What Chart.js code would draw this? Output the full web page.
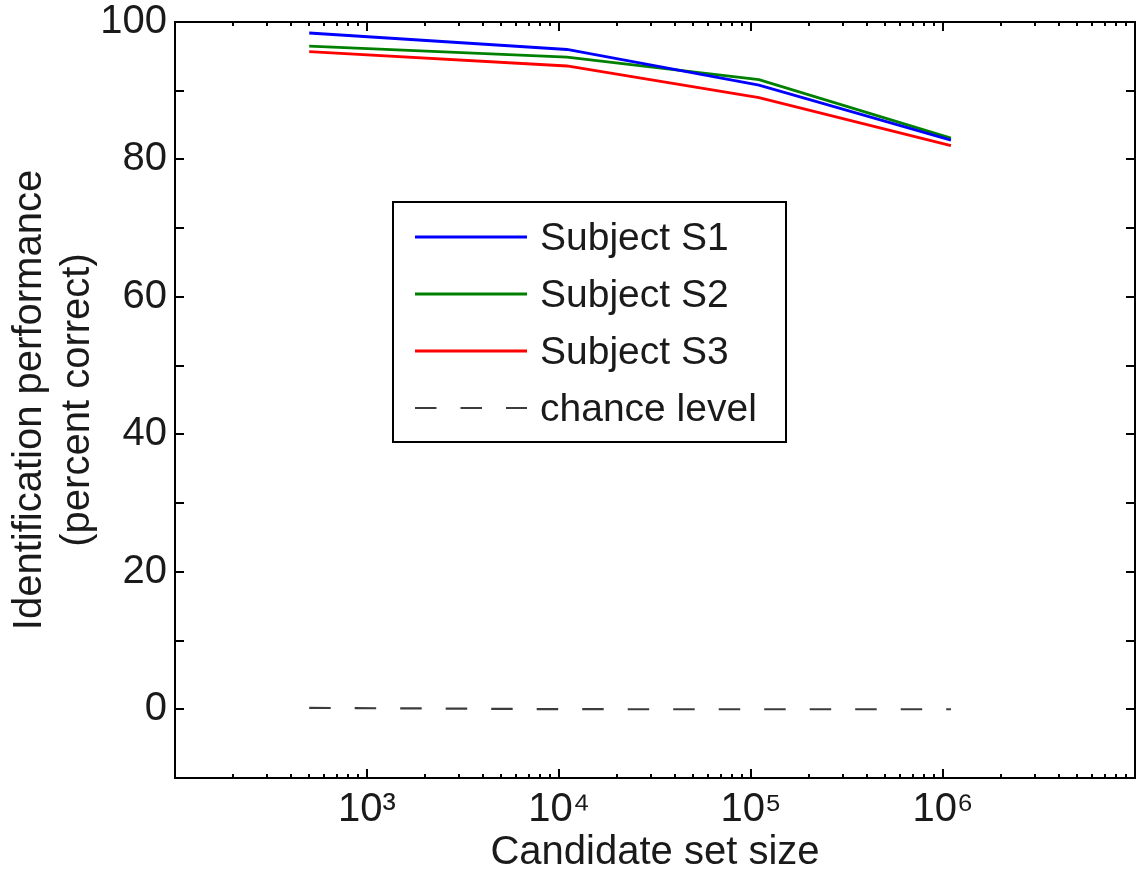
<!DOCTYPE html>
<html>
<head>
<meta charset="utf-8">
<script src="https://cdn.jsdelivr.net/npm/chart.js@4.4.1/dist/chart.umd.min.js"></script>
<style>
  html, body { margin: 0; padding: 0; background: #ffffff; }
  #wrap { width: 1141px; height: 873px; }
</style>
</head>
<body>
<div id="wrap"><canvas id="c" width="1141" height="873"></canvas></div>
<script>
// Identification performance vs. candidate set size
const setSizes   = [500, 11000, 110000, 1100000];
const subjectS1  = [98.4, 96.0, 90.8, 82.8];
const subjectS2  = [96.5, 94.9, 91.6, 83.1];
const subjectS3  = [95.7, 93.6, 89.0, 82.0];
const chanceLevel = [0.2, 0.009, 0.0009, 0.00009];

const seriesNames = ['Subject S1', 'Subject S2', 'Subject S3', 'chance level'];
const decadeLabels = { 1000: '10³', 10000: '10⁴', 100000: '10⁵', 1000000: '10⁶' };
const yLabelStep = 20;

const FONT = '"Liberation Sans", Arial, Helvetica, sans-serif';
const INK = '#1a1a1a';

// log-axis tick positions: 1..9 in every decade from 10^2 to 10^7
const xTickValues = [];
for (let e = 2; e < 7; e++) {
  for (let m = 1; m < 10; m++) xTickValues.push(m * Math.pow(10, e));
}
xTickValues.push(1e7);

const toPoints = ys => setSizes.map((x, i) => ({ x, y: ys[i] }));

// box frame with inward tick marks on all four sides
const frameTicks = {
  id: 'frameTicks',
  afterDraw(chart) {
    const { ctx, chartArea: a, scales } = chart;
    ctx.save();
    ctx.strokeStyle = '#000';
    ctx.lineWidth = 2;
    ctx.lineCap = 'butt';
    ctx.beginPath();
    scales.x.ticks.forEach(t => {
      const px = Math.round(scales.x.getPixelForValue(t.value));
      const len = decadeLabels[t.value] !== undefined || t.value === 100 || t.value === 1e7 ? 9 : 4;
      ctx.moveTo(px, a.bottom); ctx.lineTo(px, a.bottom - len);
      ctx.moveTo(px, a.top); ctx.lineTo(px, a.top + len);
    });
    scales.y.ticks.forEach(t => {
      const py = Math.round(scales.y.getPixelForValue(t.value));
      ctx.moveTo(a.left, py); ctx.lineTo(a.left + 9, py);
      ctx.moveTo(a.right, py); ctx.lineTo(a.right - 9, py);
    });
    ctx.stroke();
    ctx.strokeRect(a.left, a.top, a.right - a.left, a.bottom - a.top);
    ctx.restore();
  }
};

// boxed legend inside the plot area
const boxLegend = {
  id: 'boxLegend',
  afterDraw(chart) {
    const { ctx } = chart;
    const box = { x: 393, y: 202, w: 393, h: 240 };
    const rowY0 = 237, rowGap = 57;
    ctx.save();
    ctx.fillStyle = '#fff';
    ctx.fillRect(box.x, box.y, box.w, box.h);
    ctx.strokeStyle = '#000';
    ctx.lineWidth = 2;
    ctx.strokeRect(box.x, box.y, box.w, box.h);
    chart.data.datasets.forEach((ds, i) => {
      const y = rowY0 + i * rowGap;
      ctx.beginPath();
      ctx.setLineDash(ds.borderDash || []);
      ctx.strokeStyle = ds.borderColor;
      ctx.lineWidth = ds.borderWidth;
      ctx.moveTo(415, y);
      ctx.lineTo(527, y);
      ctx.stroke();
      ctx.setLineDash([]);
      ctx.fillStyle = INK;
      ctx.font = '39px ' + FONT;
      ctx.textBaseline = 'alphabetic';
      ctx.textAlign = 'left';
      ctx.fillText(ds.label, 540, y + 13);
    });
    ctx.restore();
  }
};

const lineStyle = (label, data, color, extra) => Object.assign({
  label,
  data: toPoints(data),
  borderColor: color,
  backgroundColor: color,
  borderWidth: 2.8,
  pointRadius: 0,
  tension: 0,
  fill: false
}, extra || {});

new Chart(document.getElementById('c'), {
  type: 'line',
  data: {
    datasets: [
      lineStyle(seriesNames[0], subjectS1, '#0000ff'),
      lineStyle(seriesNames[1], subjectS2, '#008000'),
      lineStyle(seriesNames[2], subjectS3, '#ff0000'),
      lineStyle(seriesNames[3], chanceLevel, '#3c3c3c', { borderWidth: 2.2, borderDash: [21.5, 24] })
    ]
  },
  options: {
    responsive: false,
    animation: false,
    devicePixelRatio: 1,
    layout: { padding: { top: 22, right: 6, left: 0, bottom: 0 } },
    plugins: { legend: { display: false }, tooltip: { enabled: false } },
    scales: {
      x: {
        type: 'logarithmic',
        min: 100,
        max: 1e7,
        afterBuildTicks: s => { s.ticks = xTickValues.map(v => ({ value: v })); },
        afterFit: s => { s.height = 95; s.paddingLeft = 0; s.paddingRight = 0; },
        grid: { display: false, drawTicks: false },
        border: { display: false },
        ticks: {
          autoSkip: false,
          maxRotation: 0,
          padding: 12,
          color: INK,
          font: { family: FONT, size: 40, lineHeight: 1 },
          callback: v => decadeLabels[v] || ''
        },
        title: {
          display: true,
          text: 'Candidate set size',
          color: INK,
          font: { family: FONT, size: 40, lineHeight: 1 },
          padding: { top: 0, bottom: 0 }
        }
      },
      y: {
        type: 'linear',
        min: -10,
        max: 100,
        afterFit: s => { s.width = 175; s.paddingTop = 0; s.paddingBottom = 0; },
        grid: { display: false, drawTicks: false },
        border: { display: false },
        ticks: {
          stepSize: 10,
          autoSkip: false,
          padding: 8,
          color: INK,
          font: { family: FONT, size: 40, lineHeight: 1 },
          callback: v => (v % yLabelStep === 0 ? String(v) : '')
        },
        title: {
          display: true,
          text: ['Identification performance', '(percent correct)'],
          color: INK,
          font: { family: FONT, size: 40, lineHeight: 1.2 },
          padding: { top: 6, bottom: 0 }
        }
      }
    }
  },
  plugins: [frameTicks, boxLegend]
});
</script>
</body>
</html>
